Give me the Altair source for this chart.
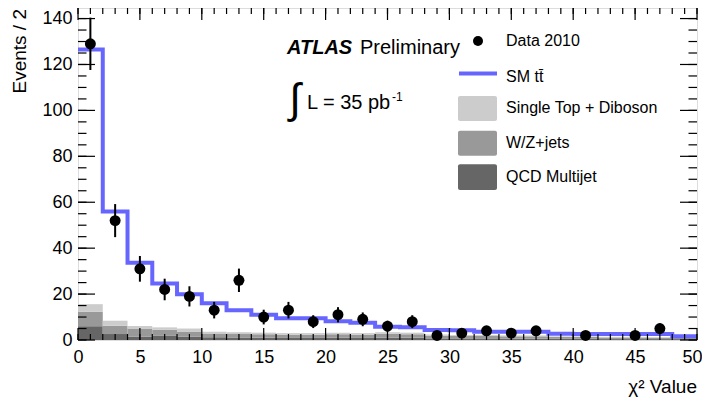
import altair as alt
import pandas as pd

# ---------------- data ----------------
bin_lo = [0, 2, 4, 6, 8, 10, 12, 14, 16, 18, 20, 22, 24, 26, 28, 30, 32, 34, 36, 38, 40, 42, 44, 46, 48]
bin_hi = [2, 4, 6, 8, 10, 12, 14, 16, 18, 20, 22, 24, 26, 28, 30, 32, 34, 36, 38, 40, 42, 44, 46, 48, 50]

# total prediction (SM ttbar stacked on backgrounds)
sm_ttbar = [126.5, 56, 33.6, 24.6, 19.9, 16, 13, 11, 9.5, 9.5, 8.2, 7.5, 5.8, 5.6, 4.4,
            4.3, 3.6, 3.6, 3.6, 2.7, 2.6, 2.6, 2.6, 2.6, 1.6]
qcd_multijet = [6.0, 2.6, 1.4, 1.8, 1.5, 1.2, 1.1, 1.0, 0.9, 0.9, 1.0, 0.9, 1.0, 1.0, 0.7,
                0.7, 0.7, 0.6, 0.6, 0.5, 0.5, 0.4, 0.4, 0.4, 0.4]
wz_jets = [6.3, 3.6, 3.6, 2.7, 2.0, 1.6, 1.5, 1.5, 1.4, 1.4, 1.5, 1.4, 1.7, 1.5, 1.2,
           1.1, 1.1, 1.0, 1.0, 0.8, 0.8, 0.7, 0.7, 0.6, 0.6]
single_top_diboson = [3.3, 2.2, 1.1, 1.0, 1.5, 0.8, 0.8, 0.7, 0.7, 0.7, 0.7, 0.7, 0.7, 0.7, 0.5,
                      0.4, 0.4, 0.4, 0.4, 0.3, 0.3, 0.3, 0.3, 0.2, 0.2]

data_x = [1, 3, 5, 7, 9, 11, 13, 15, 17, 19, 21, 23, 25, 27, 29, 31, 33, 35, 37, 41, 45, 47]
data_y = [129, 52, 31, 22, 19, 13, 26, 10, 13, 8, 11, 9, 6, 8, 2, 3, 4, 3, 4, 2, 2, 5]
data_err = [11.4, 7.2, 5.6, 4.7, 4.4, 3.6, 5.1, 3.2, 3.6, 2.8, 3.3, 3.0, 2.4, 2.8, 1.4,
            1.7, 2.0, 1.7, 2.0, 1.4, 1.4, 2.2]

x_tick_labels = [0, 5, 10, 15, 20, 25, 30, 35, 40, 45, 50]
y_tick_labels = [0, 20, 40, 60, 80, 100, 120, 140]
x_minor_ticks = list(range(0, 51, 1))
y_minor_ticks = list(range(0, 145, 5))

proc_names = ["QCD Multijet", "W/Z+jets", "Single Top + Diboson"]
proc_colors = ["#666666", "#999999", "#cccccc"]

# ---------------- layout ----------------
W, H = 619, 332
FONT = "Liberation Sans"

xs = alt.Scale(domain=[0, 50], nice=False, zero=False)
ys = alt.Scale(domain=[0, 144.6], nice=False, zero=False)
xaxis = alt.Axis(values=x_tick_labels, title=None, ticks=False, domain=False, grid=False,
                 labelFontSize=18, labelFont=FONT, labelColor="black", labelPadding=8,
                 labelFlush=True, labelFlushOffset=5, labelOverlap=False)
yaxis = alt.Axis(values=y_tick_labels, title=None, ticks=False, domain=False, grid=False,
                 labelFontSize=18, labelFont=FONT, labelColor="black", labelPadding=6,
                 labelFlush=False, labelOverlap=False)


def X(f):
    return alt.X(f, type="quantitative", scale=xs, axis=xaxis)


def Y(f):
    return alt.Y(f, type="quantitative", scale=ys, axis=yaxis)


# ---------------- tables ----------------
rows = []
for i in range(len(bin_lo)):
    base = 0.0
    for name, vals in zip(proc_names, [qcd_multijet, wz_jets, single_top_diboson]):
        rows.append({"lo": bin_lo[i], "hi": bin_hi[i], "proc": name, "y0": base, "y1": base + vals[i]})
        base += vals[i]
bg_df = pd.DataFrame(rows)

line_df = pd.DataFrame({"x": bin_lo + [bin_hi[-1]], "y": sm_ttbar + [sm_ttbar[-1]]})

pts_df = pd.DataFrame({"x": data_x, "y": data_y, "err": data_err})
pts_df["lo"] = pts_df["y"] - pts_df["err"]
pts_df["hi"] = pts_df["y"] + pts_df["err"]

xmaj_df = pd.DataFrame({"v": x_tick_labels})
xmin_df = pd.DataFrame({"v": x_minor_ticks})
ymaj_df = pd.DataFrame({"v": y_tick_labels})
ymin_df = pd.DataFrame({"v": y_minor_ticks})
one = pd.DataFrame({"a": [0]})

# ---------------- layers ----------------
bg = alt.Chart(bg_df).mark_rect().encode(
    x=X("lo"), x2="hi", y=Y("y0"), y2="y1",
    color=alt.Color("proc:N", scale=alt.Scale(domain=proc_names, range=proc_colors), legend=None),
)

ttbar = alt.Chart(line_df).mark_line(interpolate="step-after", color="#6666ff", strokeWidth=4).encode(
    x=X("x"), y=Y("y")
)

tick_color = "black"
xmaj_b = alt.Chart(xmaj_df).mark_rule(color=tick_color, strokeWidth=1.2).encode(
    x=X("v"), y=alt.value(H), y2=alt.value(H - 12))
xmaj_t = alt.Chart(xmaj_df).mark_rule(color=tick_color, strokeWidth=1.2).encode(
    x=X("v"), y=alt.value(0), y2=alt.value(12))
xmin_b = alt.Chart(xmin_df).mark_rule(color=tick_color, strokeWidth=1.2).encode(
    x=X("v"), y=alt.value(H), y2=alt.value(H - 6))
xmin_t = alt.Chart(xmin_df).mark_rule(color=tick_color, strokeWidth=1.2).encode(
    x=X("v"), y=alt.value(0), y2=alt.value(6))
ymaj_l = alt.Chart(ymaj_df).mark_rule(color=tick_color, strokeWidth=1.2).encode(
    y=Y("v"), x=alt.value(0), x2=alt.value(17))
ymaj_r = alt.Chart(ymaj_df).mark_rule(color=tick_color, strokeWidth=1.2).encode(
    y=Y("v"), x=alt.value(W), x2=alt.value(W - 17))
ymin_l = alt.Chart(ymin_df).mark_rule(color=tick_color, strokeWidth=1.2).encode(
    y=Y("v"), x=alt.value(0), x2=alt.value(8.5))
ymin_r = alt.Chart(ymin_df).mark_rule(color=tick_color, strokeWidth=1.2).encode(
    y=Y("v"), x=alt.value(W), x2=alt.value(W - 8.5))

errs = alt.Chart(pts_df).mark_rule(color="black", strokeWidth=2).encode(
    x=X("x"), y=Y("lo"), y2="hi")
pts = alt.Chart(pts_df).mark_circle(color="black", size=120, opacity=1).encode(
    x=X("x"), y=Y("y"))


def txt(s, x, y, size, **kw):
    return alt.Chart(one).mark_text(text=s, font=FONT, fontSize=size, color="black", **kw).encode(
        x=alt.value(x), y=alt.value(y))


# legend
leg_dot = alt.Chart(one).mark_circle(color="black", size=100, opacity=1).encode(
    x=alt.value(400), y=alt.value(33))
leg_line = alt.Chart(one).mark_rule(color="#6666ff", strokeWidth=4).encode(
    x=alt.value(381), x2=alt.value(419), y=alt.value(65.5))
leg_boxes = []
for (yt, yb), col in zip([(88, 113), (122.7, 147.7), (156.3, 182)], ["#cccccc", "#999999", "#666666"]):
    leg_boxes.append(alt.Chart(one).mark_rect(color=col, cornerRadius=2).encode(
        x=alt.value(380), x2=alt.value(419), y=alt.value(yt), y2=alt.value(yb)))

leg_texts = [
    txt("Data 2010", 428, 33, 16, align="left", baseline="middle"),
    txt("SM tt\u0304", 428, 68.5, 16, align="left", baseline="middle"),
    txt("Single Top + Diboson", 428, 100, 16, align="left", baseline="middle"),
    txt("W/Z+jets", 428, 135, 16, align="left", baseline="middle"),
    txt("QCD Multijet", 428, 169, 16, align="left", baseline="middle"),
]

annot = [
    txt("ATLAS", 209, 40, 20, align="left", baseline="middle", fontWeight="bold", fontStyle="italic"),
    txt("Preliminary", 282, 40, 20, align="left", baseline="middle"),
    txt("\u222b", 217, 92, 42, align="center", baseline="middle"),
    txt("L = 35 pb", 229, 95, 20, align="left", baseline="middle"),
    txt("-1", 314, 88.5, 12, align="left", baseline="middle"),
    txt("\u03c7\u00b2 Value", W, 379, 19, align="right", baseline="middle"),
    txt("Events / 2", -58, 1, 19, align="right", baseline="middle", angle=270),
]

chart = alt.layer(
    bg, ttbar, xmaj_b, xmaj_t, xmin_b, xmin_t, ymaj_l, ymaj_r, ymin_l, ymin_r,
    errs, pts, leg_dot, leg_line, *leg_boxes, *leg_texts, *annot
).properties(
    width=W, height=H,
    autosize=alt.AutoSizeParams(type="none"),
    padding={"left": 70, "top": 0, "right": 5, "bottom": 57},
).configure_view(stroke="black", strokeWidth=1.5).configure(background="white")

chart.save("out.html", embed_options={"renderer": "svg", "actions": False})
